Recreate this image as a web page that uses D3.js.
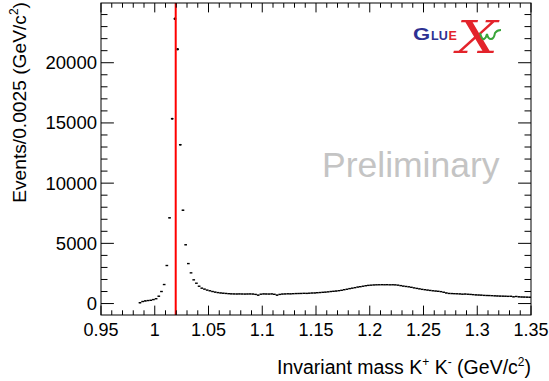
<!DOCTYPE html>
<html><head><meta charset="utf-8">
<script src="https://cdn.jsdelivr.net/npm/d3@7"></script>
<style>
html,body{margin:0;padding:0;background:#fff;}
svg{display:block;font-family:"Liberation Sans",Arial,Helvetica,sans-serif;}
</style></head>
<body>
<svg id="c" width="549" height="381"></svg>
<script>
// ---- data ----
const binWidth = 0.0025;
const firstBinCenter = 0.98625;
// bin centers from 0.98625, step 0.0025
const lowSide = [70,170,220,250,270,330,400,610,1000];            // 0.98625 .. 1.00625
const peakRegion = [1580,3160,7120,15350,23650,21120,13190,7750,4880,3320,2550,1970]; // 1.00875 .. 1.03625
const continuum = [
  1690,1440,1280,1200,1120,1060,1000,950,910,880,
  860,840,820,805,800,795,800,795,790,795,
  800,790,760,700,780,800,795,790,800,770,
  700,760,790,800,810,805,820,830,835,840,
  850,845,860,875,880,900,915,935,950,970,
  1000,1020,1040,1070,1100,1150,1190,1240,1280,1320,
  1370,1400,1440,1480,1510,1530,1545,1555,1560,1565,
  1560,1565,1555,1560,1550,1530,1490,1450,1420,1390,
  1350,1300,1260,1220,1180,1150,1120,1090,1060,1040,
  1020,990,940,880,840,830,820,810,800,780,
  790,775,760,740,720,710,700,680,670,665,
  655,640,630,620,615,610,600,605,560,590,
  560,545,540,530,525
];                                                                  // 1.03875 .. 1.34875
const phiMass = 1.0195;
const xTicks = [0.95,1,1.05,1.1,1.15,1.2,1.25,1.3,1.35];
const xTickLabels = ["0.95","1","1.05","1.1","1.15","1.2","1.25","1.3","1.35"];
const yTicks = [0,5000,10000,15000,20000];
const yTickLabels = ["0","5000","10000","15000","20000"];

const allCounts = lowSide.concat(peakRegion, continuum);
const data = allCounts.map((v,i)=>({x: firstBinCenter + i*binWidth, y: v, e: Math.sqrt(v)}));

// ---- layout ----
const L=101, R=531, T=3, B=315;
const svg = d3.select("#c");
const x = d3.scaleLinear().domain([0.95,1.35]).range([L,R]);
const y = d3.scaleLinear().domain([-950,24960]).range([B,T]);

// data points
const g = svg.append("g");
data.forEach(d=>{
  g.append("line").attr("x1",x(d.x-binWidth/2)).attr("x2",x(d.x+binWidth/2))
    .attr("y1",y(d.y)).attr("y2",y(d.y)).attr("stroke","#000").attr("stroke-width",1.4);
  g.append("line").attr("x1",x(d.x)).attr("x2",x(d.x))
    .attr("y1",y(d.y-d.e)-0.6).attr("y2",y(d.y+d.e)+0.6).attr("stroke","#000").attr("stroke-width",1.6);
});

// red line
svg.append("line").attr("x1",x(phiMass)).attr("x2",x(phiMass)).attr("y1",T).attr("y2",B)
  .attr("stroke","#ff0000").attr("stroke-width",2);

// frame
svg.append("rect").attr("x",L).attr("y",T).attr("width",R-L).attr("height",B-T)
  .attr("fill","none").attr("stroke","#000").attr("stroke-width",1);

// ticks
const xMinor = d3.range(0,41).map(i=>0.95+i*0.01);
const yMinor = d3.range(0,25).map(i=>i*1000);
const xMaj=9.4, xMin=4.7, yMaj=12.9, yMin=6.5;
xMinor.forEach(v=>{
  const major = xTicks.some(t=>Math.abs(t-v)<1e-6);
  const len = major?xMaj:xMin;
  svg.append("line").attr("x1",x(v)).attr("x2",x(v)).attr("y1",B).attr("y2",B-len).attr("stroke","#000");
  svg.append("line").attr("x1",x(v)).attr("x2",x(v)).attr("y1",T).attr("y2",T+len).attr("stroke","#000");
});
yMinor.forEach(v=>{
  const major = v%5000===0;
  const len = major?yMaj:yMin;
  svg.append("line").attr("x1",L).attr("x2",L+len).attr("y1",y(v)).attr("y2",y(v)).attr("stroke","#000");
  svg.append("line").attr("x1",R).attr("x2",R-len).attr("y1",y(v)).attr("y2",y(v)).attr("stroke","#000");
});

// tick labels
xTicks.forEach((t,i)=>{
  svg.append("text").attr("x",x(t)).attr("y",336).attr("text-anchor","middle")
    .attr("font-size",18).text(xTickLabels[i]);
});
yTicks.forEach((t,i)=>{
  svg.append("text").attr("x",97).attr("y",y(t)+6.5).attr("text-anchor","end")
    .attr("font-size",18.5).text(yTickLabels[i]);
});

// axis titles
const xt = svg.append("text").attr("x",531).attr("y",374).attr("text-anchor","end").attr("font-size",19.5);
xt.append("tspan").text("Invariant mass K");
xt.append("tspan").attr("dy",-8).attr("font-size",12).text("+");
xt.append("tspan").attr("dy",8).text(" K");
xt.append("tspan").attr("dy",-8).attr("font-size",12).text("-");
xt.append("tspan").attr("dy",8).text(" (GeV/c");
xt.append("tspan").attr("dy",-8).attr("font-size",12).text("2");
xt.append("tspan").attr("dy",8).text(")");

const yt = svg.append("text").attr("transform","translate(25.5,2) rotate(-90)").attr("text-anchor","end").attr("font-size",19.2);
yt.append("tspan").text("Events/0.0025 (GeV/c");
yt.append("tspan").attr("dy",-8).attr("font-size",12).text("2");
yt.append("tspan").attr("dy",8).text(")");

// Preliminary
svg.append("text").attr("x",322).attr("y",177).attr("font-size",35.5).attr("fill","#c4c4c4").text("Preliminary");

// GlueX logo
const logo = svg.append("g");
logo.append("text").attr("transform","translate(413,39.5) scale(1.3,1)").attr("font-size",17)
  .attr("font-weight","bold").attr("fill","#2e3192").text("G");
logo.append("text").attr("x",431).attr("y",39.5).attr("font-size",12.5).attr("font-weight","bold")
  .attr("fill","#2e3192").text("LU");
logo.append("text").attr("x",448.5).attr("y",39.5).attr("font-size",12.5).attr("font-weight","bold")
  .attr("fill","#e3232b").text("E");
logo.append("text").attr("transform","translate(457,53) scale(1.3,1)").attr("font-size",44).attr("font-style","italic")
  .attr("font-family","'DejaVu Serif',serif").attr("fill","#e3232b").text("X");
logo.append("path").attr("d","M480,33 q2,7 4,6 q2,-1 3,-5 q1,5 4,5 q3,0 4,-6 q2,-3 6,-3")
  .attr("fill","none").attr("stroke","#3aa53a").attr("stroke-width",2);
</script>
</body></html>
